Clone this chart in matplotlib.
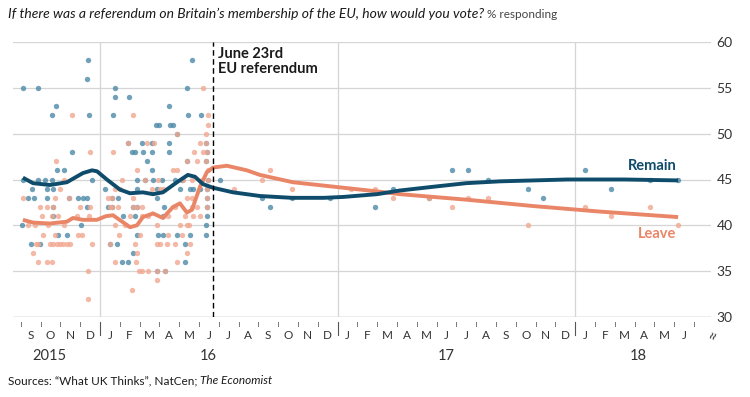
import matplotlib.pyplot as plt

plt.rcParams['font.family'] = ['Lato', 'DejaVu Sans']

# x values are months since 1 January 2016
remain_x = [-0.62, 4.63, -0.64,
            -3.87, -3.15, 0.76, 4.41,
            0.76, 1.48,
            -2.24, 3.50,
            -2.44, -0.54, 0.64, 4.46, 5.08,
            2.83, 3.00, 3.54, 3.70,
            3.87,
            1.40, 2.10, 2.61, 3.50, 5.34,
            -1.43, 1.60, 1.77, 2.19, 2.61, 3.50, 5.42,
            2.36, 4.38, 5.34,
            -2.19, -1.80, 2.61,
            -3.87, -3.15, -2.78, -2.44, -0.42, 1.85, 2.27, 2.69, 3.11, 3.79, 4.12, 5.47,
            -3.42, -2.69, -2.36, 0.25, 1.85, 2.86, 4.04, 4.55, 4.71, 5.05, 5.39,
            -3.62, -3.32, -2.69, -1.55, -1.09, -0.88, -0.64, 0.59, 0.93, 2.86, 5.39,
            -2.39, -0.64, 0.42, 0.59, 1.68, 1.85, 3.25, 5.42,
            -2.37, 1.18, 1.77, 3.20, 5.39,
            -3.93, -0.96, 5.35,
            -2.10, -1.68, 1.89, 2.95, 3.20, 3.87, 4.55, 5.35,
            -3.50, -3.03, 0.51, 0.84, 4.29,
            1.68,
            1.09, 1.43, 4.29,
            2.86, 3.28,
            # after the referendum
            6.06, 8.2, 8.6, 9.7, 11.6, 13.9, 14.8, 16.6, 17.8, 18.6, 19.6,
            21.6, 22.4, 24.5, 25.8, 27.8, 29.2]
remain_y = [58, 58, 56,
            55, 55, 55, 55,
            54, 54,
            53, 53,
            52, 52, 52, 52, 52,
            51, 51, 51, 51,
            50,
            49, 49, 49, 49, 49,
            48, 48, 48, 48, 48, 48, 48,
            47, 47, 47,
            46, 46, 46,
            45, 45, 45, 45, 45, 45, 45, 45, 45, 45, 45, 45,
            44, 44, 44, 44, 44, 44, 44, 44, 44, 44, 44,
            43, 43, 43, 43, 43, 43, 43, 43, 43, 43, 43,
            42, 42, 42, 42, 42, 42, 42, 42,
            41, 41, 41, 41, 41,
            40, 40, 40,
            39, 39, 39, 39, 39, 39, 39, 39,
            38, 38, 38, 38, 38,
            37,
            36, 36, 36,
            35, 35,
            45, 43, 42, 43, 43, 42, 44, 43, 46, 46, 45,
            44, 43, 46, 44, 45, 45]

leave_x = [5.22,
           -1.43, 1.68, 5.47,
           5.47,
           3.87, 5.34,
           1.43, 2.36, 2.74, 5.05, 5.34,
           -0.51, 0.64, 4.76, 5.22, 5.42,
           -2.24, 4.38, 4.88, 5.34,
           1.85, 3.70, 3.87, 5.47,
           -1.82, 1.09, 2.27, 2.95, 4.21, 4.63, 5.13, 5.47,
           -2.02, 0.76, 1.01, 2.61, 3.03, 3.20, 5.42,
           -3.91, -2.27, -1.55, 0.42, 0.59, 1.68, 4.38, 4.63, 5.42,
           -3.03, -2.69, -2.39, -1.01, -0.51, 0.51, 0.59, 0.93, 1.68, 1.85, 2.14, 3.79, 4.63, 4.88, 5.42,
           -2.93, -2.42, -2.10, -1.18, -0.56, 1.52, 2.10, 2.44, 3.45, 4.29, 4.71, 5.05,
           -3.62, -3.30, -2.60, -1.80, 0.76, 1.26, 2.86, 4.04, 4.38, 4.51,
           -2.88, -2.27, -1.11, -0.91, 0.96, 2.02, 3.45, 4.12,
           -3.23, -3.13, -2.53, -2.37, -2.17, -2.02, -1.87, -1.67, -1.52, -0.40, 0.51, 1.77, 2.90,
           3.03, 3.37, 3.79, 4.55,
           -3.40, 1.85, 4.38,
           -3.11, -2.69, -2.44, 0.76, 1.82, 3.87,
           -0.62, 1.99, 2.10, 2.44, 2.86, 3.28,
           2.90,
           1.63,
           -0.62,
           # after the referendum
           6.77, 8.2, 8.6, 9.7, 12.7, 13.9, 14.8, 16.6, 17.8, 18.6, 19.6,
           21.6, 24.5, 25.8, 27.8, 29.2]
leave_y = [55,
           52, 52, 52,
           51,
           50, 50,
           49, 49, 49, 49, 49,
           48, 48, 48, 48, 48,
           47, 47, 47, 47,
           46, 46, 46, 46,
           45, 45, 45, 45, 45, 45, 45, 45,
           44, 44, 44, 44, 44, 44, 44,
           43, 43, 43, 43, 43, 43, 43, 43, 43,
           42, 42, 42, 42, 42, 42, 42, 42, 42, 42, 42, 42, 42, 42, 42,
           41, 41, 41, 41, 41, 41, 41, 41, 41, 41, 41, 41,
           40, 40, 40, 40, 40, 40, 40, 40, 40, 40,
           39, 39, 39, 39, 39, 39, 39, 39,
           38, 38, 38, 38, 38, 38, 38, 38, 38, 38, 38, 38, 38,
           38, 38, 38, 38,
           37, 37, 37,
           36, 36, 36, 36, 36, 36,
           35, 35, 35, 35, 35, 35,
           34,
           33,
           32,
           44, 45, 46, 44, 44, 44, 43, 43, 42, 43, 43,
           40, 42, 41, 42, 40]

# smoothed trend lines
remain_trend_x = [-3.89, -3.38, -2.53, -1.67, -0.86, -0.40, -0.15, 0.35, 1.01, 1.52, 2.17, 2.68,
                  3.18, 3.89, 4.44, 4.80, 5.20, 5.71, 6.72, 8.08, 9.70, 11.3, 12.3, 14.0,
                  15.15, 16.8, 18.5, 20.2, 23.6, 26.5, 29.2]
remain_trend_y = [45.2, 44.6, 44.4, 44.7, 45.7, 46.0, 45.9, 45.0, 43.9, 43.5, 43.6, 43.4,
                  43.6, 44.7, 45.5, 45.3, 44.5, 44.1, 43.6, 43.2, 43.0, 43.0, 43.1, 43.4,
                  43.8, 44.2, 44.6, 44.8, 45.0, 45.0, 44.9]
leave_trend_x = [-3.89, -3.38, -2.53, -1.67, -1.36, -0.86, -0.15, 0.30, 0.66, 1.52, 1.87, 2.17,
                 2.68, 3.18, 3.69, 4.04, 4.39, 4.65, 5.05, 5.40, 5.71, 6.41, 7.42, 8.08, 9.75,
                 12.3, 14.0, 15.15, 18.5, 21.9, 25.25, 29.2]
leave_trend_y = [40.6, 40.3, 40.2, 40.4, 40.8, 40.6, 40.6, 41.0, 41.1, 39.8, 40.0, 40.9,
                 41.3, 40.8, 42.0, 42.4, 41.4, 41.7, 44.2, 45.8, 46.3, 46.5, 46.0, 45.5, 44.7,
                 44.1, 43.7, 43.4, 42.8, 42.1, 41.5, 40.9]

month_letters = ['S', 'O', 'N', 'D'] + ['J', 'F', 'M', 'A', 'M', 'J', 'J', 'A', 'S', 'O', 'N', 'D'] * 2 \
    + ['J', 'F', 'M', 'A', 'M', 'J']
year_labels = ['2015', '16', '17', '18']
year_pos = [-2.55, 5.45, 17.5, 27.2]
y_ticks = [30, 35, 40, 45, 50, 55, 60]

remain_dark = '#0f4c6b'
remain_dot = '#4d8aa8'
leave_dark = '#ea8668'
leave_dot = '#f2a890'
grid_c = '#d5d5d5'
text_c = '#333333'

fig = plt.figure(figsize=(7.5, 3.97), dpi=100)
ax = fig.add_axes([13 / 750, 1 - 317 / 397, 698 / 750, 275 / 397])

ax.set_xlim(-4.39, 30.86)
ax.set_ylim(30, 60)

for v in y_ticks[1:]:
    ax.axhline(v, color=grid_c, lw=0.9, zorder=0)
ax.axhline(30, color='#a8a8a8', lw=1.0, zorder=0)
for yr in [0, 12, 24]:
    ax.axvline(yr, color=grid_c, lw=0.9, zorder=0)

ax.scatter(remain_x, remain_y, s=15, color=remain_dot, alpha=0.8, lw=0, zorder=2)
ax.scatter(leave_x, leave_y, s=15, color=leave_dot, alpha=0.8, lw=0, zorder=2)

ax.plot(leave_trend_x, leave_trend_y, color=leave_dark, lw=2.8, solid_capstyle='butt', zorder=3)
ax.plot(remain_trend_x, remain_trend_y, color=remain_dark, lw=2.8, solid_capstyle='butt', zorder=4)

# referendum day
ax.axvline(5.73, color='black', lw=1.0, ls=(0, (4, 2.5)), zorder=5)
ax.text(5.98, 59.4, 'June 23rd\nEU referendum', fontsize=10.5, fontweight='bold',
        color='#1a1a1a', va='top', ha='left', linespacing=1.05)

ax.text(29.1, 46.5, 'Remain', color=remain_dark, fontsize=10.5, fontweight='bold',
        ha='right', va='center')
ax.text(29.1, 39.0, 'Leave', color=leave_dark, fontsize=10.5, fontweight='bold',
        ha='right', va='center')

# axes and ticks
for s in ax.spines.values():
    s.set_visible(False)
ax.set_xticks([])
ax.yaxis.tick_right()
ax.set_yticks(y_ticks)
ax.tick_params(axis='y', length=0, pad=4, labelsize=10, labelcolor=text_c)

xt = ax.get_xaxis_transform()
for m in range(-4, 31):
    if m % 12 == 0:
        ax.plot([m, m], [-0.018, -0.065], color='#555555', lw=0.8, transform=xt, clip_on=False)
    else:
        ax.plot([m, m], [-0.018, -0.034], color='#777777', lw=0.7, transform=xt, clip_on=False)
for i, lab in enumerate(month_letters):
    ax.text(-3.5 + i, -0.066, lab, transform=xt, ha='center', va='center',
            fontsize=8.5, color=text_c)
for lab, p in zip(year_labels, year_pos):
    ax.text(p, -0.14, lab, transform=xt, ha='center', va='center', fontsize=10.5, color=text_c)
ax.text(31.0, -0.066, '≈', transform=xt, ha='center', va='center', rotation=70,
        fontsize=12, color='#444444')

# title and source
t1 = fig.text(8 / 750, 1 - 14 / 397, 'If there was a referendum on Britain’s membership of the EU, how would you vote?',
              fontsize=10, style='italic', color='#1a1a1a', va='center', ha='left')
ax.annotate(' % responding', xy=(1, 0.5), xycoords=t1, va='center', ha='left',
            fontsize=8.5, color='#444444')
s1 = fig.text(8 / 750, 1 - 381 / 397, 'Sources: “What UK Thinks”, NatCen; ', fontsize=8.5,
              color='#1a1a1a', va='center', ha='left')
ax.annotate('The Economist', xy=(1, 0.5), xycoords=s1, va='center', ha='left',
            fontsize=8.5, style='italic', color='#1a1a1a')

fig.savefig('out.png', dpi=100)
